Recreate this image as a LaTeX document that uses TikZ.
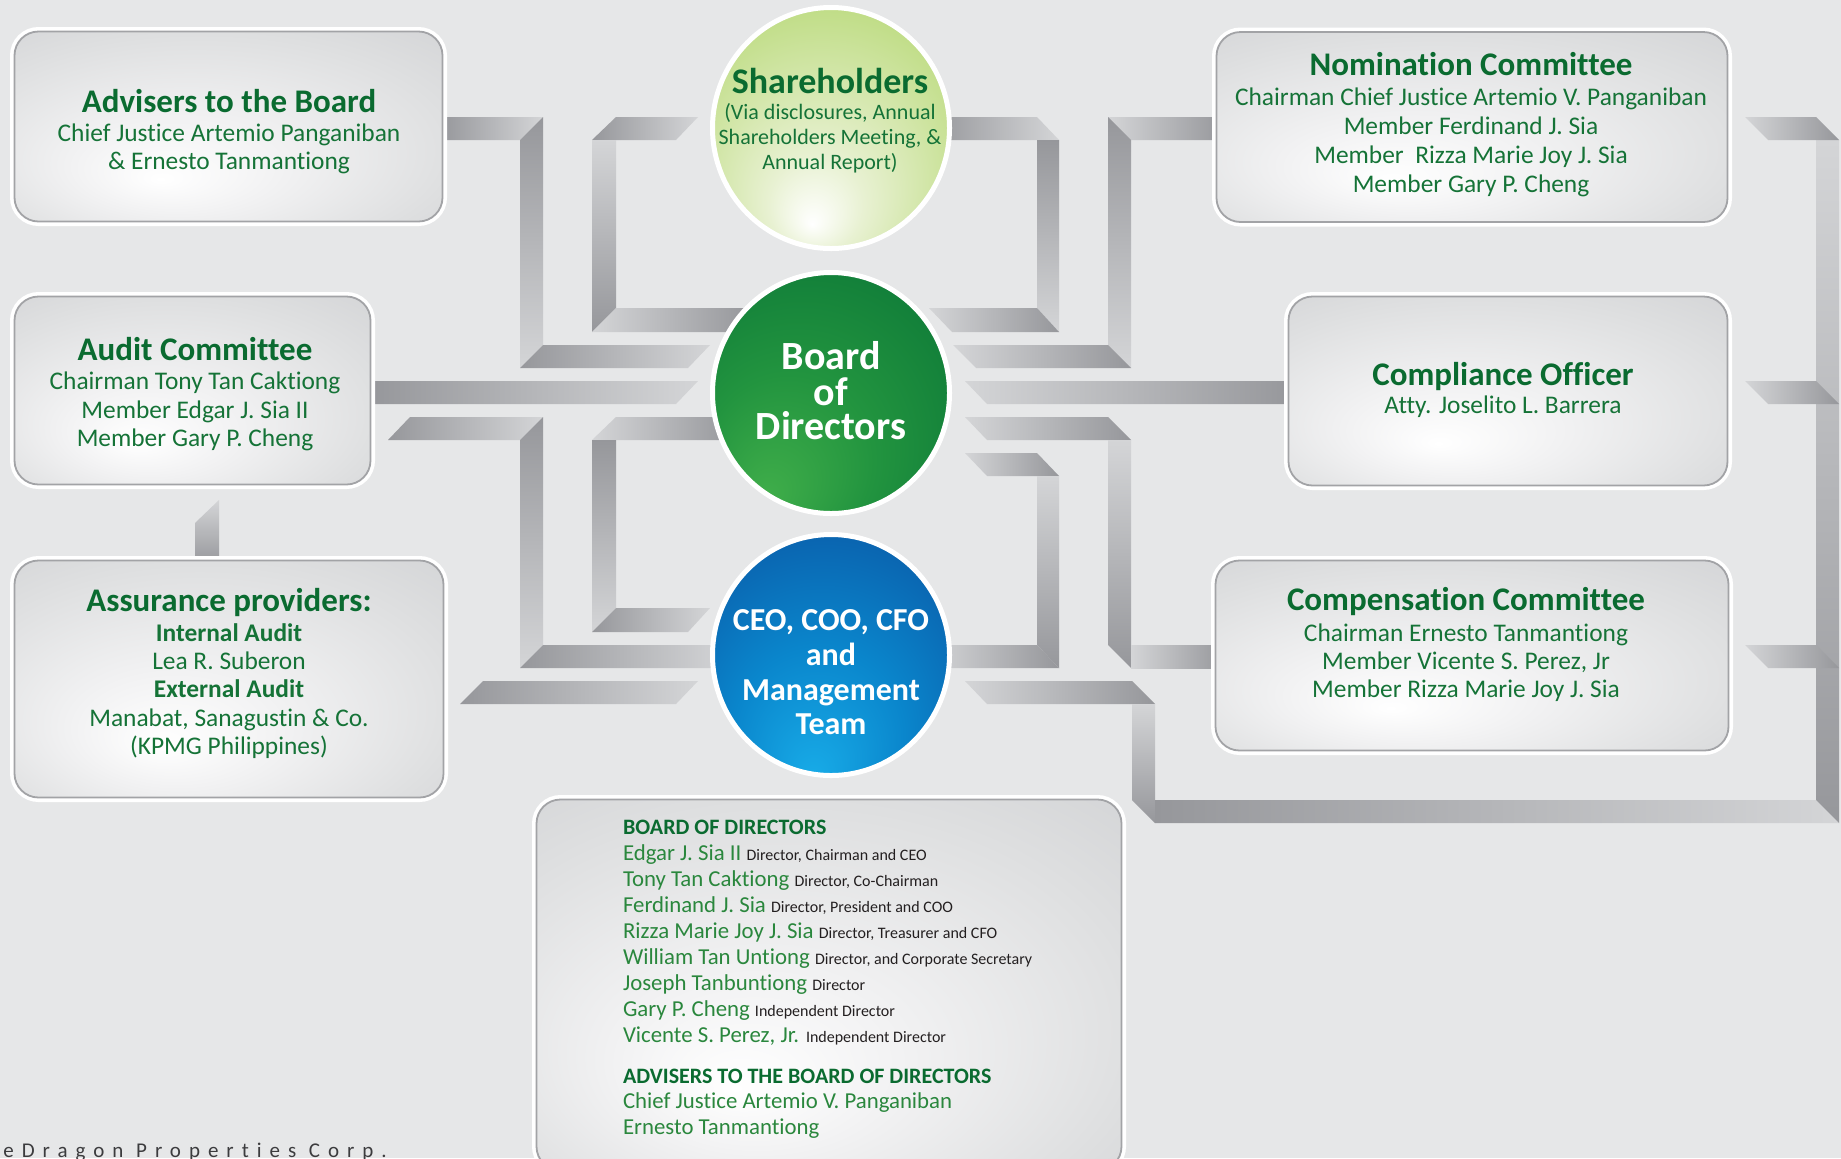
\documentclass[tikz,border=0pt]{standalone}
\usepackage{fontspec}
\setmainfont{Carlito}[Ligatures={NoCommon,NoContextual},Contextuals={NoAlternate}]
\usetikzlibrary{shapes.geometric,calc}

\definecolor{bg}{HTML}{E6E7E8}
\definecolor{ribD}{HTML}{96979B}
\definecolor{ribL}{HTML}{D4D5D7}
\definecolor{rim}{HTML}{A2A3A6}
\definecolor{boxhi}{HTML}{F2F2F3}
\definecolor{boxmid}{HTML}{DEDFE0}
\definecolor{boxedge}{HTML}{C9CACD}
\definecolor{titleG}{HTML}{0A6B30}
\definecolor{bodyG}{HTML}{157337}
\definecolor{nameG}{HTML}{2A873D}
\definecolor{roleC}{HTML}{231F20}
\definecolor{footC}{HTML}{3C3C3E}
\definecolor{shA}{HTML}{E8F1D2}
\definecolor{shB}{HTML}{C4DF8E}
\definecolor{shC}{HTML}{9FCB4C}
\definecolor{bdA}{HTML}{40AE4A}
\definecolor{bdB}{HTML}{22943F}
\definecolor{bdC}{HTML}{0E7A38}
\definecolor{bdD}{HTML}{0A6A33}
\definecolor{ceA}{HTML}{18ACE8}
\definecolor{ceB}{HTML}{0A86CC}
\definecolor{ceC}{HTML}{0A5BA8}
\definecolor{ceD}{HTML}{0E3F8A}

\pgfdeclareradialshading{boxglow}{\pgfpoint{-8bp}{-14bp}}{color(0bp)=(white); color(12bp)=(boxhi); color(30bp)=(boxmid); color(50bp)=(boxedge)}
\pgfdeclareradialshading{shareglow}{\pgfpoint{-4bp}{-20bp}}{color(0bp)=(white); color(10bp)=(shA); color(30bp)=(shB); color(50bp)=(shC)}
\pgfdeclareradialshading{boardglow}{\pgfpoint{-14bp}{-22bp}}{color(0bp)=(bdA); color(18bp)=(bdB); color(38bp)=(bdC); color(50bp)=(bdD)}
\pgfdeclareradialshading{ceoglow}{\pgfpoint{-4bp}{-26bp}}{color(0bp)=(ceA); color(18bp)=(ceB); color(38bp)=(ceC); color(50bp)=(ceD)}

\begin{document}
\begin{tikzpicture}[x=0.5pt,y=-0.5pt,
  hL/.style={left color=ribD, right color=ribL},
  hR/.style={left color=ribL, right color=ribD},
  vT/.style={top color=ribD, bottom color=ribL},
  vB/.style={top color=ribL, bottom color=ribD},
  panel/.style={shade, shading=boxglow, draw=rim, line width=0.9pt,
    preaction={draw=white, line width=4.5pt},
    rounded corners=12pt, inner sep=0pt},
  orb/.style={ellipse, shade, draw=white, line width=2.5pt, inner sep=0pt,
    minimum width=118.5pt, minimum height=120.5pt},
  ttl/.style={anchor=base, inner sep=0pt, text=titleG, font=\fontsize{16.5}{18}\selectfont\bfseries},
  body/.style={anchor=base, inner sep=0pt, text=bodyG, font=\fontsize{12.7}{14}\selectfont},
  bodyb/.style={body, font=\fontsize{12.7}{14}\selectfont\bfseries},
  subt/.style={anchor=base, inner sep=0pt, text=bodyG, font=\fontsize{11}{12}\selectfont},
  wt/.style={anchor=base, inner sep=0pt, text=white},
  lhead/.style={anchor=base west, inner sep=0pt, text=titleG, font=\fontsize{11}{12}\selectfont\bfseries},
  lname/.style={anchor=base west, inner sep=0pt, text=nameG, font=\fontsize{11.4}{12}\selectfont}
]
\newcommand\rolef[1]{{\fontsize{8}{9}\selectfont\color{roleC}#1}}

% page background
\fill[bg] (0,0) rectangle (1841,1158);
\useasboundingbox (0,0) rectangle (1841,1158);

% ---- folded ribbons, left half ----
% advisers -> board
\shade[hL] (440,117)--(543,117)--(520,140)--(440,140)--cycle;
\shade[vT] (520,140)--(543,117)--(543,345)--(520,368)--cycle;
\shade[hL] (520,368)--(543,345)--(710,345)--(688,368)--cycle;
% shareholders -> board
\shade[hL] (592,140)--(616,117)--(698,117)--(676,140)--cycle;
\shade[vB] (592,140)--(616,140)--(616,308)--(592,332)--cycle;
\shade[hR] (592,332)--(616,308)--(750,308)--(750,332)--cycle;
% audit -> board
\shade[hL] (370,381)--(698,381)--(676,404)--(370,404)--cycle;
% audit -> management
\shade[hL] (388,440)--(410,417)--(543,417)--(520,440)--cycle;
\shade[vT] (520,440)--(543,417)--(543,645)--(520,668)--cycle;
\shade[hL] (520,668)--(543,645)--(730,645)--(730,668)--cycle;
% board -> management
\shade[hR] (592,440)--(616,417)--(735,417)--(735,440)--cycle;
\shade[vT] (592,440)--(616,440)--(616,608)--(592,632)--cycle;
\shade[hL] (592,632)--(616,608)--(710,608)--(688,632)--cycle;
% assurance -> management
\shade[hL] (460,704)--(483,681)--(698,681)--(676,704)--cycle;
% audit -> assurance
\shade[vB] (195,565)--(195,523)--(219,500)--(219,565)--cycle;

% ---- folded ribbons, right half ----
% shareholders -> board
\shade[hL] (930,117)--(1037,117)--(1059,140)--(930,140)--cycle;
\shade[vT] (1037,140)--(1059,140)--(1059,332)--(1037,308)--cycle;
\shade[hR] (929,308)--(1037,308)--(1059,332)--(952,332)--cycle;
% nomination -> board
\shade[hR] (1108,117)--(1225,117)--(1225,140)--(1131,140)--cycle;
\shade[vT] (1108,117)--(1131,140)--(1131,368)--(1108,345)--cycle;
\shade[hR] (953,345)--(1108,345)--(1131,368)--(976,368)--cycle;
% compliance -> board
\shade[hR] (965,381)--(1295,381)--(1295,404)--(987,404)--cycle;
% board -> compensation
\shade[hR] (965,417)--(1108,417)--(1131,440)--(987,440)--cycle;
\shade[vB] (1108,440)--(1131,440)--(1131,668)--(1108,645)--cycle;
\shade[hR] (1131,645)--(1225,645)--(1225,668)--(1131,668)--cycle;
% board -> management
\shade[hR] (965,453)--(1037,453)--(1059,476)--(987,476)--cycle;
\shade[vB] (1037,476)--(1059,476)--(1059,668)--(1037,645)--cycle;
\shade[hR] (930,645)--(1037,645)--(1059,668)--(930,668)--cycle;
% management -> committees (outer loop)
\shade[hR] (965,681)--(1132,681)--(1155,704)--(987,704)--cycle;
\shade[vB] (1132,704)--(1155,704)--(1155,823)--(1132,800)--cycle;
\shade[hL] (1155,800)--(1816,800)--(1839,823)--(1155,823)--cycle;
\shade[vB] (1816,140)--(1839,140)--(1839,823)--(1816,800)--cycle;
\shade[hR] (1745,117)--(1816,117)--(1839,140)--(1768,140)--cycle;
\shade[hR] (1745,381)--(1816,381)--(1839,404)--(1768,404)--cycle;
\shade[hR] (1745,645)--(1816,645)--(1839,668)--(1768,668)--cycle;

% ---- panels ----
\node[panel, minimum width=214pt, minimum height=95pt] (adv) at (228.5,126.5) {};
\node[panel, minimum width=178pt, minimum height=94pt] (aud) at (192.5,390.5) {};
\node[panel, minimum width=214.5pt, minimum height=118.5pt] (asr) at (229,679) {};
\node[panel, minimum width=255.5pt, minimum height=95pt] (nom) at (1472,127) {};
\node[panel, minimum width=219.5pt, minimum height=94.5pt] (cpl) at (1508,391) {};
\node[panel, minimum width=256.5pt, minimum height=95pt] (cps) at (1472,655.5) {};
\node[panel, minimum width=292.5pt, minimum height=185.5pt] (lst) at (829,985) {};

% ---- circles ----
\node[orb, shading=shareglow] (sh) at (831,128) {};
\node[orb, shading=boardglow] (bd) at (831,393) {};
\node[orb, shading=ceoglow] (ceo) at (831,655) {};

% ---- panel texts ----
\node[ttl] (advT) at (229,112) {Advisers to the Board};
\node[body] (advA) at (229,141) {Chief Justice Artemio Panganiban};
\node[body] (advB) at (229,169) {\& Ernesto Tanmantiong};

\node[ttl] (audT) at (195,360) {Audit Committee};
\node[body] (audA) at (195,389) {Chairman Tony Tan Caktiong};
\node[body] (audB) at (195,418) {Member Edgar J. Sia II};
\node[body] (audC) at (195,446) {Member Gary P. Cheng};

\node[ttl] (asrT) at (229,611) {Assurance providers:};
\node[bodyb] (asrA) at (229,641) {Internal Audit};
\node[body] (asrB) at (229,669) {Lea R. Suberon};
\node[bodyb] (asrC) at (229,697) {External Audit};
\node[body] (asrD) at (229,726) {Manabat, Sanagustin \& Co.};
\node[body] (asrE) at (229,754.5) {(KPMG Philippines)};

\node[ttl] (nomT) at (1471,75.7) {Nomination Committee};
\node[body] (nomA) at (1471,105.4) {Chairman Chief Justice Artemio V. Panganiban};
\node[body] (nomB) at (1471,134) {Member Ferdinand J. Sia};
\node[body] (nomC) at (1471,163) {Member~~Rizza Marie Joy J. Sia};
\node[body] (nomD) at (1471,192) {Member Gary P. Cheng};

\node[ttl] (cplT) at (1503,385) {Compliance Officer};
\node[body] (cplA) at (1503,413.6) {Atty. Joselito L. Barrera};

\node[ttl] (cpsT) at (1466,610) {Compensation Committee};
\node[body] (cpsA) at (1466,641) {Chairman Ernesto Tanmantiong};
\node[body] (cpsB) at (1466,669) {Member Vicente S. Perez, Jr};
\node[body] (cpsC) at (1466,697) {Member Rizza Marie Joy J. Sia};

% ---- circle texts ----
\node[anchor=base, inner sep=0pt, text=titleG, font=\fontsize{18}{20}\selectfont\bfseries] (shT) at (830,93.6) {Shareholders};
\node[subt] (shA) at (830,119.6) {(Via disclosures, Annual};
\node[subt] (shB) at (830,144.6) {Shareholders Meeting, \&};
\node[subt] (shC) at (830,169.6) {Annual Report)};

\node[wt, font=\fontsize{20}{22}\selectfont\bfseries] (bdA) at (831,369.6) {Board};
\node[wt, font=\fontsize{20}{22}\selectfont\bfseries] (bdB) at (831,405) {of};
\node[wt, font=\fontsize{20}{22}\selectfont\bfseries] (bdC) at (831,439) {Directors};

\node[wt, font=\fontsize{16}{18}\selectfont\bfseries] (ceoA) at (831,630.7) {CEO, COO, CFO};
\node[wt, font=\fontsize{16}{18}\selectfont\bfseries] (ceoB) at (831,665) {and};
\node[wt, font=\fontsize{16}{18}\selectfont\bfseries] (ceoC) at (831,700) {Management};
\node[wt, font=\fontsize{16}{18}\selectfont\bfseries] (ceoD) at (831,734) {Team};

% ---- directors list ----
\node[lhead] (lsH) at (622.6,834) {BOARD OF DIRECTORS};
\node[lname] (ls1) at (622.6,860) {Edgar J. Sia II \rolef{Director, Chairman and CEO}};
\node[lname] (ls2) at (622.6,886) {Tony Tan Caktiong \rolef{Director, Co-Chairman}};
\node[lname] (ls3) at (622.6,912) {Ferdinand J. Sia \rolef{Director, President and COO}};
\node[lname] (ls4) at (622.6,938) {Rizza Marie Joy J. Sia \rolef{Director, Treasurer and CFO}};
\node[lname] (ls5) at (622.6,964) {William Tan Untiong \rolef{Director, and Corporate Secretary}};
\node[lname] (ls6) at (622.6,990) {Joseph Tanbuntiong \rolef{Director}};
\node[lname] (ls7) at (622.6,1016) {Gary P. Cheng \rolef{Independent Director}};
\node[lname] (ls8) at (622.6,1042) {Vicente S. Perez, Jr. \rolef{Independent Director}};
\node[lhead] (lsK) at (622.6,1083.5) {ADVISERS TO THE BOARD OF DIRECTORS};
\node[lname] (ls9) at (622.6,1108.7) {Chief Justice Artemio V. Panganiban};
\node[lname] (ls10) at (622.6,1134) {Ernesto Tanmantiong};

% ---- footer ----
\node[anchor=base west, inner sep=0pt, text=footC, font=\fontsize{10.5}{12}\selectfont\addfontfeatures{LetterSpace=38}] (foot) at (3,1157) {eDragon Properties Corp.};
\end{tikzpicture}
\end{document}
